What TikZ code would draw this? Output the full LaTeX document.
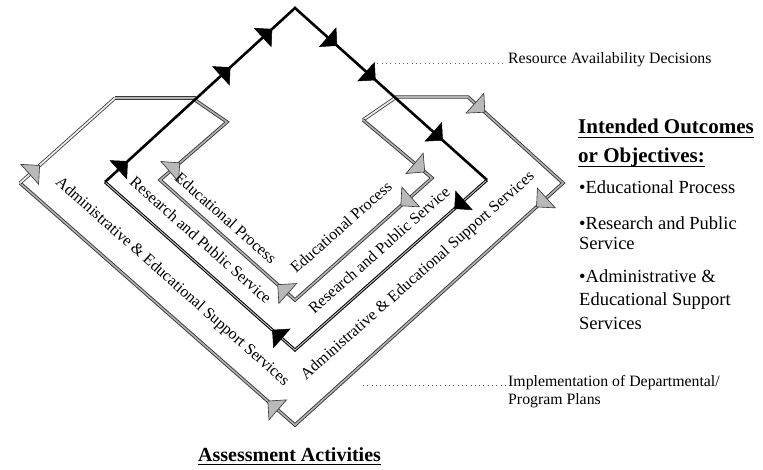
\documentclass[tikz,border=0pt]{standalone}
\usepackage{fontspec}
\setmainfont{Liberation Serif}
\usetikzlibrary{arrows.meta,decorations.markings}
\tikzset{
  bl/.style={line width=2.6pt, black, line join=miter},
  rv/.style={draw=black, line width=1pt, double=gray!50, double distance=1pt},
  gl/.style={draw=gray!45!black, line width=0.9pt, double=gray!60, double distance=1.6pt},
  gw/.style={draw=gray!45!black, line width=0.8pt, double=gray!15, double distance=1.8pt},
  gtip/.tip={Triangle[length=14pt, width=28pt, fill=gray!55, color=gray!40!black, line width=0.6pt]},
  btip/.tip={Triangle[length=13pt, width=26pt, fill=black, color=black, line width=0.5pt]},
  gm/.style={postaction={decorate, decoration={markings, mark=at position #1 with {\arrow{gtip}}}}},
  bm/.style={postaction={decorate, decoration={markings, mark=at position #1 with {\arrow{btip}}}}},
  lab/.style={font=\fontsize{16}{18}\selectfont, inner sep=0pt},
  rt/.style={font=\fontsize{15.8}{18}\selectfont, inner sep=0pt, anchor=base west},
  bt/.style={font=\fontsize{18.5}{21}\selectfont, inner sep=0pt, anchor=base west},
  hd/.style={font=\bfseries\fontsize{21}{24}\selectfont, inner sep=0pt, anchor=base west},
  ul/.style={line width=1.3pt},
  leader/.style={line width=0.9pt, gray!70!black, dash pattern=on 0.9pt off 3.4pt}
}
\begin{document}
\begin{tikzpicture}[x=1pt,y=-1pt]
\useasboundingbox (0,0) rectangle (763,470);
\fill[white] (0,0) rectangle (763,470);
% black diamond (Research and Public Service)
\coordinate (RL) at (105,182);
\coordinate (AP) at (295,8);
\coordinate (RR) at (487,180);
\coordinate (RB) at (295,350);
% Educational Process loop
\coordinate (EJ1) at (195,100);
\coordinate (EK1) at (227,122);
\coordinate (EL) at (160,180);
\coordinate (EB) at (295,300);
\coordinate (ER) at (432,178);
\coordinate (EK2) at (363,120);
\coordinate (EJ2) at (395,98);
% Administrative loop
\coordinate (AJ1) at (196,98);
\coordinate (AK1) at (115,98);
\coordinate (AL) at (20,183);
\coordinate (AB) at (295,425);
\coordinate (AR) at (563,183);
\coordinate (AK2) at (468,97);
\coordinate (AJ2) at (395,97);

% gray loops
\draw[gw] (EJ2) -- (EK2);
\draw[gl] (EK2) -- (ER) -- (EB) -- (EL) -- (EK1) -- (EJ1);
\draw[gl] (AJ2) -- (AK2) -- (AR) -- (AB) -- (AL);
\draw[gw] (AL) -- (AK1);
\draw[gl] (AK1) -- (AJ1);
% black
\draw[rv] (RR) -- (RB) -- (RL);
\draw[bl] (RL) -- (AP) -- (RR);

% arrow marks
\path[bm=0.12, bm=0.66, bm=0.88] (RL) -- (AP);
\path[bm=0.22, bm=0.42, bm=0.77] (AP) -- (RR);
\path[bm=0.17] (RR) -- (RB);
\path[bm=0.12] (RB) -- (RL);
\path[gm=0.9] (EK2) -- (ER);
\path[gm=0.23] (ER) -- (EB);
\path[gm=0.13] (EB) -- (EL);
\path[gm=0.3] (EL) -- (EK1);
\path[gm=0.18] (AK2) -- (AR);
\path[gm=0.10] (AR) -- (AB);
\path[gm=0.10] (AB) -- (AL);
\path[gm=0.21] (AL) -- (AK1);

% arm labels
\node[lab, rotate=-41.5] (t1) at (172,282) {Administrative \& Educational Support Services};
\node[lab, rotate=-41.5] (t2) at (201,240) {Research and Public Service};
\node[lab, rotate=-41.5] (t3) at (226,218) {Educational Process};
\node[lab, rotate=41.5] (t4) at (341,227) {Educational Process};
\node[lab, rotate=41.5] (t5) at (379,250) {Research and Public Service};
\node[lab, rotate=41.5] (t6) at (418,276) {Administrative \& Educational Support Services};

% leaders and side texts
\node[rt] (rad) at (508,64) {Resource Availability Decisions};
\coordinate (radL) at (373,63);
\draw[leader] (radL) -- ([shift={(-2pt,1pt)}]rad.base west);
\node[rt] (imp) at (508,386) {Implementation of Departmental/};
\node[rt] (imp2) at (508,404) {Program Plans};
\coordinate (impL) at (363,385);
\draw[leader] (impL) -- ([shift={(-2pt,1pt)}]imp.base west);

% headings
\node[hd] (io1) at (578,134) {Intended Outcomes};
\node[hd] (io2) at (578,163) {or Objectives:};
\node[hd, font=\bfseries\fontsize{20}{24}\selectfont] (as) at (198,461) {Assessment Activities};
\draw[ul] ([yshift=-3.5pt]io1.base west) -- ([yshift=-3.5pt]io1.base east);
\draw[ul] ([yshift=-3.5pt]io2.base west) -- ([yshift=-3.5pt]io2.base east);
\draw[ul] ([yshift=-3.5pt]as.base west) -- ([yshift=-3.5pt]as.base east);

% bullets
\node[bt] (b1) at (579,194) {•Educational Process};
\node[bt] (b2) at (579,230) {•Research and Public};
\node[bt] (b2b) at (579,250) {Service};
\node[bt] (b3) at (579,283) {•Administrative \&};
\node[bt] (b3b) at (579,306) {Educational Support};
\node[bt] (b3c) at (579,330) {Services};
\end{tikzpicture}
\end{document}
